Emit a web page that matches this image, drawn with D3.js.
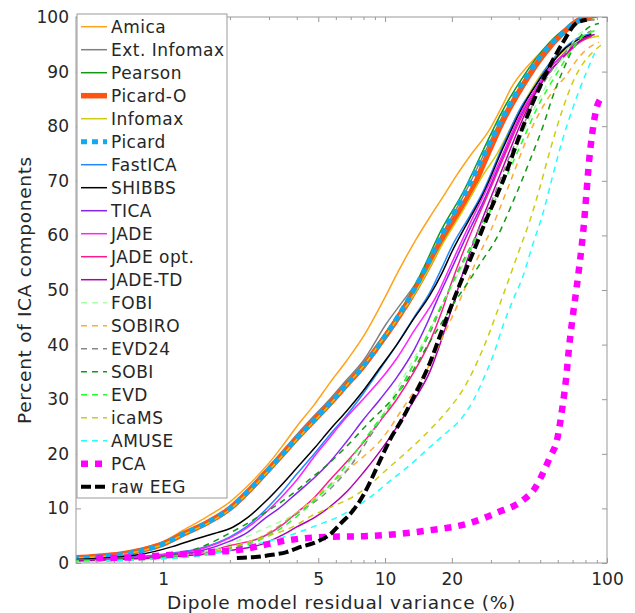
<!DOCTYPE html>
<html>
<head>
<meta charset="utf-8">
<script src="https://cdn.jsdelivr.net/npm/d3@7"></script>
<style>
  body { margin: 0; background: #fff; }
  text { font-family: "DejaVu Sans", sans-serif; fill: #262626; }
</style>
</head>
<body>
<div id="chart"></div>
<script>
// Legend order = draw order
const methods = ["Amica", "Ext. Infomax", "Pearson", "Picard-O", "Infomax", "Picard",
  "FastICA", "SHIBBS", "TICA", "JADE", "JADE opt.", "JADE-TD", "FOBI", "SOBIRO",
  "EVD24", "SOBI", "EVD", "icaMS", "AMUSE", "PCA", "raw EEG"];

// Curves: [dipole residual variance (%), percent of ICA components]
const amica = [[0.35,0.9],[0.5,1.3],[0.64,1.8],[0.79,2.6],[1,3.9],[1.23,6],[1.58,8.5],[2,11.2],[2.47,14.6],[3,18.3],[3.5,21.8],[4,25],[4.8,29],[5.64,33],[6.7,37],[7.96,41.4],[9.8,48],[11.5,53.5],[13.9,59.5],[16,63.5],[18.2,67],[21,71],[24.1,74.5],[29.7,79.5],[34,84],[37,87],[45,91.5],[55,95],[65,97.5],[80,99.5],[90,100]];
const extInfomax = [[0.35,0.8],[0.5,1.1],[0.64,1.5],[0.79,2.2],[1,3.5],[1.23,5.4],[1.58,7.5],[2,10.2],[2.4,13.3],[2.82,16.5],[3.4,20.2],[4,23.5],[4.8,27],[5.64,30],[6.7,33.5],[7.96,37],[10.2,44],[11.8,47.5],[13.9,51.5],[18.2,60.5],[22.4,67],[27.6,74.5],[34,82],[41.8,88],[51.5,93.5],[63,97],[75,99],[88,99.5]];
const pearson = [[0.35,0.8],[0.5,1.1],[0.64,1.5],[0.79,2.2],[1,3.5],[1.23,5.4],[1.58,7.4],[2,10],[2.4,13.1],[2.82,16.2],[3.4,19.8],[4,23],[4.8,26.5],[5.64,29.5],[6.7,33],[7.96,36.5],[9.5,40.7],[11.3,45.2],[13.9,51.5],[18.2,61.5],[22.4,67.8],[27.6,75.5],[34,83],[41.8,89],[51.5,94],[63,97.5],[75,99.3],[90,100]];
const picardO = [[0.35,0.8],[0.5,1.2],[0.64,1.6],[0.79,2.3],[1,3.5],[1.23,5.3],[1.58,7.4],[2,10],[2.4,13],[2.82,16],[3.4,19.6],[4,22.8],[4.8,26.2],[5.64,29.2],[6.7,32.6],[7.96,36],[9.5,40.2],[11.3,44.6],[13.9,50.5],[16,55],[18.2,59.5],[22.4,65.5],[25,68.8],[27.6,72.8],[34,81],[41.8,87.5],[51.5,93],[63,97],[75,99.5],[85,100]];
const infomax = [[0.35,0.8],[0.5,1.1],[0.64,1.5],[0.79,2.2],[1,3.4],[1.23,5.2],[1.58,7.2],[2,9.8],[2.4,12.8],[2.82,15.8],[3.4,19.4],[4,22.6],[4.8,26],[5.64,29],[6.7,32.5],[7.96,36],[9.5,40.3],[11.3,44.5],[13.9,50],[18.2,58.5],[22.4,64.5],[27.6,71],[31.8,74.8],[41.8,84],[51.5,90],[63,93.5],[75,95.5],[92,96.5]];
const picard = [[0.35,0.8],[0.5,1.1],[0.64,1.5],[0.79,2.2],[1,3.5],[1.23,5.3],[1.58,7.4],[2,10],[2.4,13],[2.82,16],[3.4,19.6],[4,22.8],[4.8,26.2],[5.64,29.2],[6.7,32.6],[7.96,36],[9.5,40.2],[11.3,44.8],[13.9,51],[16,55.8],[18.2,60.5],[22.4,67],[27.6,74.4],[34,81.7],[41.8,88],[51.5,93.4],[63,97],[72,99],[81,99.8]];
const fastica = [[0.35,0.5],[0.6,0.9],[1,1.6],[1.5,2.8],[2,4.8],[2.4,6.8],[2.9,9.8],[3.4,12.8],[4,16.3],[4.8,20],[5.64,23.5],[6.7,27],[7.96,31],[9.5,35.5],[11.3,40],[13.5,45],[15.9,49.5],[18,54],[20,58],[24,63.5],[27.6,68],[34,76.5],[41,83.5],[46,86.5],[55,91.5],[65,94.5],[75,96.3],[85,97]];
const shibbs = [[0.35,0.6],[0.6,1],[0.8,1.6],[1.1,3],[1.4,4.4],[1.7,5.4],[2.07,6.6],[2.4,8.3],[2.9,11.3],[3.4,14.2],[4,17.4],[4.8,21],[5.64,24.4],[6.7,27.8],[7.96,31.5],[9.5,35.8],[11.3,40],[13.5,44.8],[15.9,49],[18,53],[20,57],[24,63],[27.6,67.5],[34,76],[41,83],[46,86.5],[55,91],[65,94.3],[75,96],[85,96.8]];
const tica = [[0.35,0.4],[0.6,0.8],[1,1.4],[1.5,2.3],[2,4],[2.4,5.6],[2.82,7.9],[3.4,10.3],[4,12.8],[4.8,15.6],[5.64,18.5],[6.7,22.2],[7.96,26.2],[9.5,30],[11.3,34],[13.5,39],[15.5,44],[17.1,48],[20,54],[24,61],[27.6,66],[34,74.5],[41,82],[48,87],[55,90.5],[65,93.5],[75,95.5],[85,96.5]];
const jade = [[0.35,0.4],[0.6,0.8],[1,1.5],[1.5,2.6],[2,4.6],[2.4,6.5],[2.82,8.8],[3.4,12],[4,15.2],[4.8,19.5],[5.64,23],[6.47,26],[7.96,30],[9.5,33.5],[11.3,37.5],[13.5,42.5],[17.1,49],[20,55],[24,62],[27.6,67],[34,75],[41,82.5],[48,87],[55,90.5],[65,93.5],[75,95.5],[85,96.5]];
const jadeOpt = [[0.35,0.4],[0.6,0.7],[1,1.2],[1.5,2],[2,3.2],[2.82,4.8],[3.4,6.8],[4,9.2],[4.8,12],[5.64,15.2],[6.7,18.5],[7.96,22],[9.5,26],[11.3,30],[13.5,35],[15.9,40.5],[18,46],[19.6,50.5],[22,56],[25,61.5],[28,66],[34,74],[41,81.5],[48,86.5],[55,90],[65,93],[75,95.3],[85,96.5]];
const jadeTD = [[0.35,0.3],[0.6,0.6],[1,1],[1.5,1.6],[2,2.3],[2.82,3.5],[3.4,5],[4,6.6],[4.8,8.3],[5.64,10.3],[6.7,13],[7.96,16.5],[9.5,20.5],[11.3,24.9],[13.5,29.8],[15.9,35],[18,41],[20.3,47.5],[23,54.5],[26,60.5],[30,67],[36,75],[43,82.5],[50,87.5],[58,91],[68,94],[78,96],[88,96.8]];
const fobi = [[0.35,0.3],[0.7,0.6],[1,1],[1.5,2],[2,3.5],[2.82,6.2],[4,9.2],[5.64,14],[7,18],[8.5,23.2],[9.8,27.2],[12.1,34],[15.9,42.7],[19,49],[23,55.5],[27,61],[33,69],[40,77],[48,84],[58,90],[68,94.5],[78,97.3],[90,97.3]];
const sobiro = [[0.35,0.3],[0.7,0.6],[1,0.9],[1.5,1.6],[2,2.6],[2.82,5],[4,9.2],[5,12.5],[6.5,16.5],[8,19.5],[9.8,23],[12,28.3],[14.8,34],[18,41],[22.4,49.4],[25.9,55.5],[30,61],[36,69],[45,79],[55,85.5],[65.5,89.3],[75,92.7],[85,94.7],[92,95.4]];
const evd24 = [[0.35,0.3],[0.7,0.7],[1,1],[1.5,1.7],[2,2.8],[2.82,4.8],[4,9],[5.64,13.5],[7,17.8],[8.5,23],[10.9,29.9],[13.5,36.5],[16,42.3],[18.2,47.5],[21,53],[25,59],[30,66],[36,74],[44,82],[52,88],[62,92.5],[72,95.5],[85,97.5]];
const sobi = [[0.35,0.4],[0.7,0.8],[1,1.3],[1.5,3],[2,5.5],[2.82,9],[4,13.3],[4.6,15.4],[5.5,18],[6.5,20.8],[8.6,26],[10.5,29.5],[12.1,32.5],[15.9,40.5],[18,44],[20,47],[24,51.8],[27,55],[31.8,59.5],[38,66.5],[45,73.8],[52,80.5],[57,85.5],[63,90],[72,95],[82,98],[92,98.8]];
const evd = [[0.35,0.3],[0.7,0.6],[1,0.9],[1.5,1.5],[2,2.5],[2.82,4.5],[4,8.5],[4.8,11.5],[5.64,14.2],[6.7,18],[7.96,22.2],[9,25.2],[10.5,28.8],[12,32.6],[13.9,37.7],[17.1,45.5],[20,51],[24,57.2],[27.6,61.8],[33,68.3],[41.8,77.5],[48,83],[53.5,86.6],[59.5,89.7],[68,93.5],[78,96.5],[88,97.5]];
const icaMS = [[0.35,0.2],[0.7,0.5],[1,0.8],[1.5,1.5],[2,2.9],[3,5],[4,7],[4.6,8.5],[5.6,10.1],[7.5,12.6],[10.5,17.6],[14.8,23.1],[19,27.8],[22.4,31.7],[27.6,39.2],[34,49],[40,57],[45,62.8],[50,69],[55.4,75.6],[63,83],[70,88],[78,91.5],[86,93.5],[95,95]];
const amuse = [[0.35,0.2],[0.7,0.5],[1,0.8],[1.5,1.3],[2,2.4],[3,4],[4,5.5],[5,7],[6.1,8.4],[7.2,10],[8.6,12.1],[10.5,15],[13,18],[15.5,20.8],[18.2,23.3],[22.4,26.8],[25,29.8],[27.6,33.5],[31,38.5],[34,43.5],[38,48.5],[41.8,52.5],[46,58],[51.5,64.1],[57,71],[63,77.5],[69,82.5],[75,86.6],[82,90.5],[88,93.4]];
const pca = [[0.5,0.9],[0.8,1.1],[1.1,1.5],[1.6,2],[2.2,2.4],[3,3.5],[3.7,4.2],[5.6,4.8],[8,4.9],[12,5.4],[15.9,6],[24,7.3],[31.8,9.2],[41.8,11.5],[47,13.5],[51.5,16.5],[55.5,19.5],[59.5,22.5],[63,28.6],[65.5,34],[67.5,39.6],[70,45],[73,50.5],[78,60.4],[84,75.6],[90,83.5],[95,85.3]];
const rawEEG = [[2.15,0.9],[2.6,1.1],[3.1,1.5],[3.6,2],[4,2.7],[5,4],[5.64,5.2],[6.3,7.2],[7.2,9.7],[8,12.5],[8.6,15],[9.5,18.8],[10.5,22.5],[12,26.5],[13.5,30.5],[15.9,36.6],[18.2,43],[21.7,51],[25,57],[29,63.5],[34,70],[41.8,79.9],[51.5,88.5],[63,95.2],[73,98.9],[81,99.5]];

const curves = [amica, extInfomax, pearson, picardO, infomax, picard, fastica, shibbs,
  tica, jade, jadeOpt, jadeTD, fobi, sobiro, evd24, sobi, evd, icaMS, amuse, pca, rawEEG];

// Tick labels
const xTicks = [1, 5, 10, 20, 100];
const yTicks = [0, 10, 20, 30, 40, 50, 60, 70, 80, 90, 100];

// line styles
const colors = ["#ffa31a", "#808080", "#119911", "#ff5511", "#cccc11", "#11aaee",
  "#2288ff", "#000000", "#8822ee", "#ff22ff", "#ff1a8c", "#b000b0", "#aaffaa", "#ffaa33",
  "#888888", "#119911", "#22ff22", "#cccc11", "#22ffff", "#ff00ff", "#000000"];
const widths = [1.5, 1.5, 1.5, 5.5, 1.5, 5, 1.5, 1.5, 1.5, 1.5, 1.5, 1.5,
  1.5, 1.5, 1.5, 1.5, 1.5, 1.5, 1.5, 6.5, 4];
const dashes = [null, null, null, null, null, "6,5", null, null, null, null, null, null,
  "6,5", "6,5", "6,5", "6,5", "6,5", "6,5", "6,5", "7,7", "10,4"];

const width = 635, height = 613;
const plot = { left: 76, right: 607, top: 17, bottom: 563 };

const svg = d3.select("#chart")
  .append("svg")
  .attr("width", width)
  .attr("height", height);

const x = d3.scaleLog().domain([0.405, 100]).range([plot.left, plot.right]);
const y = d3.scaleLinear().domain([0, 100]).range([plot.bottom, plot.top]);

svg.append("defs").append("clipPath").attr("id", "clip")
  .append("rect")
  .attr("x", plot.left).attr("y", plot.top)
  .attr("width", plot.right - plot.left).attr("height", plot.bottom - plot.top);

// minor ticks on log axis
const minor = [];
[0.1, 1, 10].forEach(d => { for (let k = 2; k <= 9; k++) { const v = d * k; if (v >= 0.405 && v < 100 && !xTicks.includes(v)) minor.push(v); } });

const axisColor = "#999";

function styleAxis(g) {
  g.select(".domain").remove();
  g.selectAll("line").attr("stroke", axisColor);
  g.selectAll("text").style("font-size", "17px").attr("fill", "#262626");
}

svg.append("g").attr("transform", `translate(0,${plot.bottom})`)
  .call(d3.axisBottom(x).tickValues(xTicks).tickFormat(d3.format("d")).tickSizeInner(-5).tickSizeOuter(0).tickPadding(10))
  .call(styleAxis);
svg.append("g").attr("transform", `translate(0,${plot.bottom})`)
  .call(d3.axisBottom(x).tickValues(minor).tickFormat("").tickSizeInner(-3).tickSizeOuter(0))
  .call(styleAxis);
svg.append("g").attr("transform", `translate(0,${plot.top})`)
  .call(d3.axisTop(x).tickValues(xTicks).tickFormat("").tickSizeInner(-5).tickSizeOuter(0))
  .call(styleAxis);
svg.append("g").attr("transform", `translate(0,${plot.top})`)
  .call(d3.axisTop(x).tickValues(minor).tickFormat("").tickSizeInner(-3).tickSizeOuter(0))
  .call(styleAxis);
svg.append("g").attr("transform", `translate(${plot.left},0)`)
  .call(d3.axisLeft(y).tickValues(yTicks).tickSizeInner(-5).tickSizeOuter(0).tickPadding(7))
  .call(styleAxis);
svg.append("g").attr("transform", `translate(${plot.right},0)`)
  .call(d3.axisRight(y).tickValues(yTicks).tickFormat("").tickSizeInner(-5).tickSizeOuter(0))
  .call(styleAxis);

// curves
const line = d3.line()
  .x(d => x(d[0]))
  .y(d => y(d[1]))
  .curve(d3.curveMonotoneX);

const lines = svg.append("g").attr("clip-path", "url(#clip)");
curves.forEach((c, i) => {
  lines.append("path")
    .datum(c)
    .attr("d", line)
    .attr("fill", "none")
    .attr("stroke", colors[i])
    .attr("stroke-width", widths[i])
    .attr("stroke-dasharray", dashes[i])
    .attr("stroke-linejoin", "round");
});

// axes box
svg.append("rect")
  .attr("x", plot.left).attr("y", plot.top)
  .attr("width", plot.right - plot.left).attr("height", plot.bottom - plot.top)
  .attr("fill", "none").attr("stroke", axisColor).attr("stroke-width", 1);

// axis titles
svg.append("text")
  .attr("x", (plot.left + plot.right) / 2)
  .attr("y", 609)
  .attr("text-anchor", "middle")
  .style("font-size", "18.5px")
  .style("letter-spacing", "0.7px")
  .text("Dipole model residual variance (%)");

svg.append("text")
  .attr("transform", `translate(31,${(plot.top + plot.bottom) / 2}) rotate(-90)`)
  .attr("text-anchor", "middle")
  .style("font-size", "18.5px")
  .style("letter-spacing", "0.7px")
  .text("Percent of ICA components");

// legend
const legend = svg.append("g");
legend.append("rect")
  .attr("x", 77).attr("y", 14)
  .attr("width", 150).attr("height", 484)
  .attr("fill", "#fff").attr("stroke", axisColor).attr("stroke-width", 1);

methods.forEach((m, i) => {
  const cy = 26.7 + i * 23;
  legend.append("line")
    .attr("x1", 81).attr("x2", 107)
    .attr("y1", cy).attr("y2", cy)
    .attr("stroke", colors[i])
    .attr("stroke-width", widths[i])
    .attr("stroke-dasharray", dashes[i]);
  legend.append("text")
    .attr("x", 111).attr("y", cy + 6)
    .style("font-size", "17px")
    .style("letter-spacing", "0.5px")
    .text(m);
});
</script>
</body>
</html>
